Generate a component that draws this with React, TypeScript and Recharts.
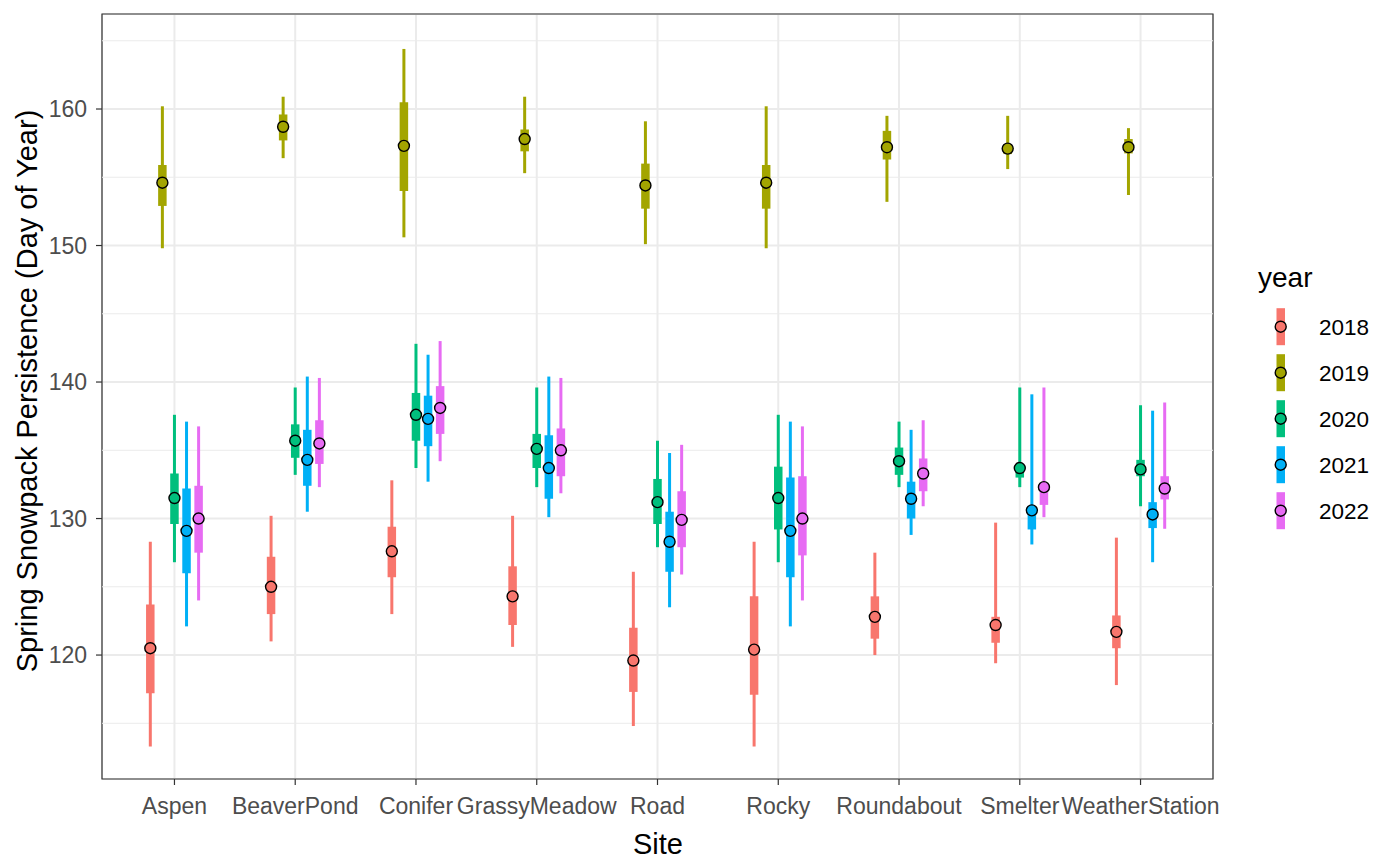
import {
  ScatterChart,
  Scatter,
  XAxis,
  YAxis,
  CartesianGrid,
  ErrorBar,
  ReferenceLine,
  ReferenceArea,
} from "recharts";

const sites = [
  "Aspen",
  "BeaverPond",
  "Conifer",
  "GrassyMeadow",
  "Road",
  "Rocky",
  "Roundabout",
  "Smelter",
  "WeatherStation",
];
const years = ["2018", "2019", "2020", "2021", "2022"];
const colors = ["#F8766D", "#A3A500", "#00BF7D", "#00B0F6", "#E76BF3"];

// rows = years (2018..2022), columns = sites
const median = [
  [120.5, 125.0, 127.6, 124.3, 119.6, 120.4, 122.8, 122.2, 121.7],
  [154.6, 158.7, 157.3, 157.8, 154.4, 154.6, 157.2, 157.1, 157.2],
  [131.5, 135.7, 137.6, 135.1, 131.2, 131.5, 134.2, 133.7, 133.6],
  [129.1, 134.3, 137.3, 133.7, 128.3, 129.1, 131.45, 130.6, 130.3],
  [130.0, 135.5, 138.1, 135.0, 129.9, 130.0, 133.3, 132.3, 132.2],
];
const lower66 = [
  [117.2, 123.0, 125.7, 122.2, 117.3, 117.1, 121.2, 120.9, 120.5],
  [152.9, 157.7, 154.0, 156.9, 152.7, 152.7, 156.3, 156.7, 156.75],
  [129.6, 134.45, 135.7, 133.7, 129.6, 129.2, 133.2, 133.0, 133.1],
  [126.0, 132.4, 135.3, 131.45, 126.1, 125.7, 130.0, 129.2, 129.3],
  [127.5, 134.0, 136.2, 133.1, 127.9, 127.3, 132.0, 131.0, 131.4],
];
const upper66 = [
  [123.7, 127.2, 129.4, 126.5, 122.0, 124.3, 124.3, 122.8, 122.9],
  [155.9, 159.6, 160.5, 158.5, 156.0, 155.9, 158.4, 157.4, 157.8],
  [133.3, 136.9, 139.2, 136.2, 132.9, 133.8, 135.2, 133.9, 134.3],
  [132.2, 136.5, 139.0, 136.1, 130.5, 133.0, 132.7, 130.9, 131.2],
  [132.4, 137.2, 139.7, 136.6, 132.0, 133.1, 134.4, 132.6, 133.1],
];
const lower95 = [
  [113.3, 121.0, 123.0, 120.6, 114.8, 113.3, 120.0, 119.4, 117.8],
  [149.8, 156.4, 150.6, 155.3, 150.1, 149.8, 153.2, 155.6, 153.7],
  [126.8, 133.2, 133.7, 132.3, 127.9, 126.8, 132.3, 132.3, 130.9],
  [122.1, 130.5, 132.7, 130.1, 123.5, 122.1, 128.8, 128.1, 126.8],
  [124.0, 132.3, 134.2, 131.85, 125.9, 124.0, 130.9, 130.1, 129.25],
];
const upper95 = [
  [128.3, 130.2, 132.8, 130.2, 126.1, 128.3, 127.5, 129.7, 128.6],
  [160.2, 160.9, 164.4, 160.9, 159.1, 160.2, 159.5, 159.5, 158.6],
  [137.6, 139.6, 142.8, 139.6, 135.7, 137.6, 137.1, 139.6, 138.3],
  [137.1, 140.4, 142.0, 140.4, 134.8, 137.1, 136.5, 139.1, 137.9],
  [136.75, 140.3, 143.0, 140.3, 135.4, 136.75, 137.2, 139.6, 138.5],
];

const majorTicks = [120, 130, 140, 150, 160];
const minorTicks = [115, 125, 135, 145, 155, 165];
const siteTicks = sites.map((_, i) => i + 1);

const Y_MIN = 110.92;
const Y_MAX = 166.96;
const DODGE = 0.1;
const FONT = "'Liberation Sans', Arial, Helvetica, sans-serif";

function yearData(yi: number) {
  return sites.map((site, i) => {
    const y = median[yi][i];
    return {
      site,
      x: i + 1 + (yi - 2) * DODGE,
      y,
      inner: [y - lower66[yi][i], upper66[yi][i] - y],
      outer: [y - lower95[yi][i], upper95[yi][i] - y],
    };
  });
}

const Dot = (color: string) => (props: any) =>
  <circle cx={props.cx} cy={props.cy} r={5.5} fill={color} stroke="#000" strokeWidth={1.4} />;

function Legend() {
  return (
    <svg width={1400} height={865} style={{ position: "absolute", left: 0, top: 0, pointerEvents: "none" }}>
      <text x={1258} y={287} fontSize={28} fontFamily={FONT} fill="#000">
        year
      </text>
      {years.map((yr, i) => {
        const cy = 326.7 + 46 * i;
        return (
          <g key={yr}>
            <rect x={1276.5} y={cy - 18.5} width={8.5} height={37} fill={colors[i]} />
            <circle cx={1280.7} cy={cy} r={5.5} fill={colors[i]} stroke="#000" strokeWidth={1.4} />
            <text x={1319} y={cy} dy="0.36em" fontSize={22.5} fontFamily={FONT} fill="#000">
              {yr}
            </text>
          </g>
        );
      })}
    </svg>
  );
}

export default function App() {
  return (
    <div style={{ position: "absolute", left: 0, top: 0, width: 1400, height: 865, background: "#fff" }}>
      <ScatterChart width={1400} height={865} margin={{ top: 14, right: 187, bottom: 0, left: 0 }}>
        <CartesianGrid stroke="#EBEBEB" strokeWidth={2} />
        {minorTicks.map((v) => (
          <ReferenceLine key={v} y={v} stroke="#EBEBEB" strokeWidth={1} />
        ))}
        <XAxis
          type="number"
          dataKey="x"
          domain={[0.4, 9.6]}
          ticks={siteTicks}
          interval={0}
          allowDataOverflow
          tickFormatter={(v: number) => sites[Math.round(v) - 1]}
          axisLine={false}
          tickLine={{ stroke: "#333333", strokeWidth: 1.2 }}
          tickSize={6}
          tickMargin={13}
          height={86}
          tick={{ fill: "#4D4D4D", fontSize: 23, fontFamily: FONT }}
          label={{
            content: () => (
              <text x={658} y={854} textAnchor="middle" fontSize={29} fontFamily={FONT} fill="#000">
                Site
              </text>
            ),
          }}
        />
        <YAxis
          type="number"
          dataKey="y"
          domain={[Y_MIN, Y_MAX]}
          ticks={majorTicks}
          allowDataOverflow
          axisLine={false}
          tickLine={{ stroke: "#333333", strokeWidth: 1.2 }}
          tickSize={6}
          tickMargin={9}
          width={102}
          tick={{ fill: "#4D4D4D", fontSize: 23, fontFamily: FONT }}
          label={{
            content: () => (
              <text
                x={37}
                y={391}
                transform="rotate(-90, 37, 391)"
                textAnchor="middle"
                fontSize={29}
                fontFamily={FONT}
                fill="#000"
              >
                Spring Snowpack Persistence (Day of Year)
              </text>
            ),
          }}
        />
        {years.map((yr, yi) => (
          <Scatter
            key={yr}
            name={yr}
            data={yearData(yi)}
            fill={colors[yi]}
            shape={Dot(colors[yi])}
            isAnimationActive={false}
          >
            <ErrorBar dataKey="outer" direction="y" width={0} stroke={colors[yi]} strokeWidth={3} />
            <ErrorBar dataKey="inner" direction="y" width={0} stroke={colors[yi]} strokeWidth={8.5} />
          </Scatter>
        ))}
        <ReferenceArea
          x1={0.4}
          x2={9.6}
          y1={Y_MIN}
          y2={Y_MAX}
          fill="none"
          fillOpacity={0}
          stroke="#333333"
          strokeWidth={1.2}
        />
      </ScatterChart>
      <Legend />
    </div>
  );
}
